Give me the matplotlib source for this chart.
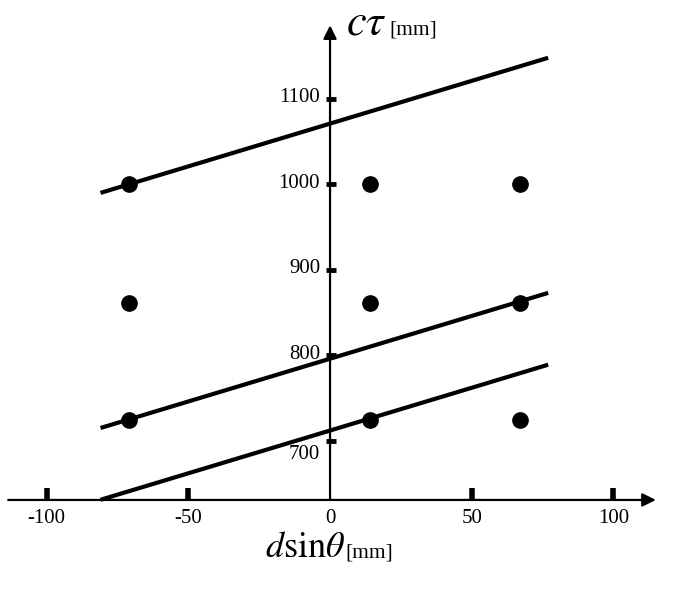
import numpy as np
import matplotlib
matplotlib.use("Agg")
from matplotlib import pyplot as plt

plt.rcParams['font.family'] = ['Liberation Serif', 'DejaVu Serif']
plt.rcParams['mathtext.fontset'] = 'stix'

# data points (d sin(theta) in mm, c tau in mm)
pt_x = [-71, 14, 67, -71, 14, 67, -71, 14, 67]
pt_y = [1000, 1000, 1000, 861, 861, 861, 724, 724, 724]

# lines of slope 1: c tau = d sin(theta) + intercept
line_intercepts = [1071, 796, 712]
line_x = [-81, 77]

x_ticks = [-100, -50, 50, 100]
x_tick_labels = ['-100', '-50', '50', '100']
y_ticks = [700, 800, 900, 1000, 1100]

fig = plt.figure(figsize=(6.85, 5.98), dpi=100)
ax = fig.add_axes([0, 0, 1, 1])
ax.set_xlim(-116.5, 125.3)
ax.set_ylim(516.1, 1215.6)
ax.axis('off')

y0 = 630.8  # where the horizontal axis sits

# axes with arrows
ax.annotate('', xy=(115, y0), xytext=(-113.6, y0),
            arrowprops=dict(arrowstyle='-|>', color='black', lw=1.6,
                            mutation_scale=20, shrinkA=0, shrinkB=0))
ax.annotate('', xy=(0, 1186), xytext=(0, y0),
            arrowprops=dict(arrowstyle='-|>', color='black', lw=1.6,
                            mutation_scale=20, shrinkA=0, shrinkB=0))

# tick marks
for t in x_ticks:
    ax.plot([t, t], [y0, y0 + 14], color='black', lw=4, solid_capstyle='butt')
for t in y_ticks:
    ax.plot([-1.5, 2.2], [t, t], color='black', lw=3.5, solid_capstyle='butt')

# tick labels
for t, lab in zip(x_ticks, x_tick_labels):
    ax.text(t, y0 - 11, lab, ha='center', va='top', fontsize=15)
ax.text(0, y0 - 11, '0', ha='center', va='top', fontsize=15)
for t in y_ticks:
    if t == 700:
        ax.text(-3.5, t - 16, str(t), ha='right', va='center', fontsize=15)
    else:
        ax.text(-3.5, t + 1, str(t), ha='right', va='center', fontsize=15)

# axis labels
ax.text(5.5, 1175, r'$c\tau$', ha='left', va='baseline', fontsize=32)
ax.text(21, 1175, '[mm]', ha='left', va='baseline', fontsize=15.5)
ax.text(-23, 564, r'$d\mathrm{sin}\theta$', ha='left', va='baseline', fontsize=26)
ax.text(5.3, 564, '[mm]', ha='left', va='baseline', fontsize=15.5)

# lines
for b in line_intercepts:
    xs = np.array(line_x, dtype=float)
    ys = xs + b
    ax.plot(xs, ys, color='black', lw=3, solid_capstyle='butt')

# points
ax.plot(pt_x, pt_y, 'o', color='black', markersize=11)

fig.savefig('out.png', dpi=100)
